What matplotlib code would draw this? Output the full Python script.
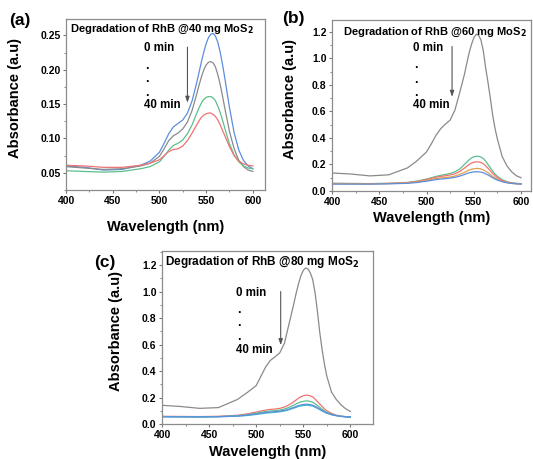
import matplotlib
matplotlib.use("Agg")
import matplotlib.pyplot as plt
from matplotlib.ticker import MultipleLocator

plt.rcParams["font.family"] = ["Liberation Sans", "DejaVu Sans"]
plt.rcParams["font.weight"] = "bold"

WL = [400, 420, 440, 460, 480, 490, 500, 505, 510, 515, 520, 525, 530, 535, 540, 542.5,
      545, 547.5, 550, 552.5, 555, 557.5, 560, 562.5, 565, 567.5, 570, 572.5, 575, 580,
      585, 590, 595, 600]

# (a) 40 mg MoS2
a_blue = [.060, .058, .054, .055, .061, .067, .080, .093, .107, .117, .122, .127, .137, .155,
          .182, .197, .212, .226, .238, .247, .252, .253, .249, .240, .226, .208, .188, .166,
          .145, .108, .083, .068, .060, .056]
a_gray = [.059, .057, .055, .056, .060, .064, .074, .085, .097, .104, .108, .114, .124, .141,
          .165, .178, .190, .200, .207, .211, .212, .210, .204, .193, .179, .162, .144, .127,
          .110, .085, .068, .059, .054, .052]
a_green = [.053, .052, .051, .052, .056, .059, .066, .074, .083, .090, .093, .098, .107, .120,
           .137, .145, .152, .157, .160, .161, .161, .159, .155, .147, .138, .127, .115, .103,
           .092, .076, .066, .060, .057, .056]
a_red = [.061, .060, .058, .058, .061, .064, .069, .075, .081, .084, .085, .089, .097, .108,
         .120, .126, .131, .134, .136, .137, .137, .135, .132, .127, .120, .112, .104, .096,
         .088, .075, .067, .063, .061, .060]

# (b) 60 mg MoS2
b_gray = [.136, .128, .114, .122, .175, .228, .295, .355, .420, .470, .505, .535, .610, .740,
          .877, .960, 1.04, 1.105, 1.155, 1.182, 1.175, 1.14, 1.06, .93, .82, .70, .57, .47,
          .39, .26, .19, .145, .115, .100]
b_green = [.058, .057, .056, .058, .065, .075, .090, .100, .110, .118, .125, .132, .145, .165,
           .200, .218, .235, .249, .258, .262, .262, .256, .245, .225, .200, .175, .150, .128,
           .110, .085, .070, .062, .058, .056]
b_red = [.057, .056, .055, .057, .063, .072, .086, .095, .104, .110, .115, .121, .130, .147,
         .172, .187, .200, .210, .217, .220, .220, .215, .206, .190, .172, .152, .132, .115,
         .100, .080, .067, .060, .056, .054]
b_orange = [.055, .055, .054, .056, .061, .068, .080, .087, .094, .099, .102, .106, .113, .125,
            .140, .150, .158, .164, .168, .170, .170, .166, .160, .150, .138, .124, .110, .098,
            .088, .073, .064, .058, .055, .053]
b_blue = [.052, .052, .052, .054, .058, .064, .074, .080, .086, .090, .093, .097, .103, .112,
          .124, .131, .137, .141, .144, .145, .145, .142, .138, .130, .121, .111, .100, .090,
          .082, .070, .062, .057, .054, .052]

# (c) 80 mg MoS2
c_gray = [.141, .132, .118, .124, .185, .235, .290, .360, .430, .480, .507, .537, .610, .760,
          .910, .990, 1.06, 1.12, 1.16, 1.178, 1.17, 1.14, 1.09, .99, .85, .69, .56, .45,
          .36, .24, .185, .145, .115, .095]
c_red = [.058, .057, .056, .058, .066, .076, .090, .098, .105, .110, .113, .118, .128, .145,
         .168, .182, .195, .206, .213, .217, .217, .212, .204, .188, .170, .150, .132, .115,
         .100, .080, .067, .060, .056, .053]
c_green = [.056, .055, .054, .056, .062, .070, .081, .088, .094, .098, .101, .105, .113, .126,
           .143, .152, .160, .167, .171, .174, .174, .170, .164, .153, .140, .126, .112, .099,
           .088, .073, .064, .058, .055, .053]
c_blue = [.054, .054, .053, .055, .060, .066, .076, .082, .087, .090, .093, .097, .103, .113,
          .126, .133, .139, .144, .147, .149, .149, .146, .142, .134, .124, .113, .102, .092,
          .083, .071, .063, .057, .054, .052]
c_cyan = [.056, .055, .054, .055, .059, .064, .072, .077, .082, .085, .088, .092, .098, .108,
          .120, .126, .132, .136, .139, .141, .141, .138, .135, .127, .118, .108, .098, .089,
          .081, .070, .063, .058, .055, .053]

GRAY = "#8a8a8a"
BLUE = "#5b8ede"
GREEN = "#5cbf8e"
RED = "#f07272"
ORANGE = "#e0a050"
CYAN = "#49b6c8"

W, H = 533, 459
fig = plt.figure(figsize=(W / 100, H / 100), dpi=100)


def make_ax(left, top, right, bottom):
    return fig.add_axes([left / W, 1 - bottom / H, (right - left) / W, (bottom - top) / H])


def style(ax, xlim, ylim, ymaj, ymin, ylab_x, xlab_y):
    ax.set_xlim(*xlim)
    ax.set_ylim(*ylim)
    ax.xaxis.set_major_locator(MultipleLocator(50))
    ax.xaxis.set_minor_locator(MultipleLocator(25))
    ax.yaxis.set_major_locator(MultipleLocator(ymaj))
    ax.yaxis.set_minor_locator(MultipleLocator(ymin))
    for s in ax.spines.values():
        s.set_color("#8c8c8c")
        s.set_linewidth(0.9)
    ax.tick_params(which="both", direction="out", color="#777777", labelsize=7.5, pad=1.5)
    ax.tick_params(which="major", length=2.5, width=0.8)
    ax.tick_params(which="minor", length=1.5, width=0.6)
    for t in ax.get_xticklabels() + ax.get_yticklabels():
        t.set_fontweight("bold")
    ax.set_ylabel("Absorbance (a.u)", fontsize=10.5, fontweight="bold")
    ax.set_xlabel("Wavelength (nm)", fontsize=10.5, fontweight="bold")
    ax.yaxis.set_label_coords(ylab_x, 0.54)
    ax.xaxis.set_label_coords(0.5, xlab_y)


def annotate(ax, x_text, y0, y40, dots, x_arrow, y_arrow0, y_arrow1):
    ax.text(x_text, y0, "0 min", fontsize=8.3, fontweight="bold", va="center")
    for d in dots:
        ax.text(x_text + 1, d, ".", fontsize=9, fontweight="bold", va="center")
    ax.text(x_text, y40, "40 min", fontsize=8.3, fontweight="bold", va="center")
    ax.annotate("", xy=(x_arrow, y_arrow1), xytext=(x_arrow, y_arrow0),
                arrowprops=dict(arrowstyle="-|>,head_length=0.35,head_width=0.12",
                                color="#555555", lw=0.8, shrinkA=0, shrinkB=0))


lw = 0.9
# (a)
ax = make_ax(66, 19, 265, 190)
ax.plot(WL, a_blue, color=BLUE, lw=lw)
ax.plot(WL, a_gray, color=GRAY, lw=lw)
ax.plot(WL, a_green, color=GREEN, lw=lw)
ax.plot(WL, a_red, color=RED, lw=lw)
style(ax, (400, 613), (0.025, 0.274), 0.05, 0.025, -0.221, -0.175)
ax.text(0.02, 0.975, "Degradation of RhB @40 mg MoS$_\\mathbf{2}$", transform=ax.transAxes,
        fontsize=8, fontweight="bold", va="top")
annotate(ax, 484, 0.232, 0.149, [0.205, 0.186, 0.166], 530, 0.233, 0.152)
fig.text(20 / W, 1 - 21 / H, "(a)", fontsize=12.5, fontweight="bold", ha="center", va="center")

# (b)
ax = make_ax(332, 20, 531, 191)
ax.plot(WL, b_gray, color=GRAY, lw=lw)
ax.plot(WL, b_green, color=GREEN, lw=lw)
ax.plot(WL, b_red, color=RED, lw=lw)
ax.plot(WL, b_orange, color=ORANGE, lw=lw)
ax.plot(WL, b_blue, color=BLUE, lw=lw)
style(ax, (400, 610.5), (0, 1.29), 0.2, 0.1, -0.176, -0.117)
ax.text(0.055, 0.965, "Degradation of RhB @60 mg MoS$_\\mathbf{2}$", transform=ax.transAxes,
        fontsize=8, fontweight="bold", va="top")
annotate(ax, 486, 1.08, 0.65, [0.95, 0.84, 0.74], 527, 1.09, 0.71)
fig.text(293 / W, 1 - 18 / H, "(b)", fontsize=12.5, fontweight="bold", ha="center", va="center")

# (c)
ax = make_ax(162, 251, 373, 424)
ax.plot(WL, c_gray, color=GRAY, lw=lw)
ax.plot(WL, c_red, color=RED, lw=lw)
ax.plot(WL, c_green, color=GREEN, lw=lw)
ax.plot(WL, c_cyan, color=CYAN, lw=lw)
ax.plot(WL, c_blue, color=BLUE, lw=lw)
style(ax, (400, 624), (0, 1.306), 0.2, 0.1, -0.185, -0.124)
ax.text(0.015, 0.985, "Degradation of RhB @80 mg MoS$_\\mathbf{2}$", transform=ax.transAxes,
        fontsize=8.5, fontweight="bold", va="top")
annotate(ax, 479, 0.99, 0.557, [0.86, 0.76, 0.655], 526, 1.0, 0.595)
fig.text(105 / W, 1 - 263 / H, "(c)", fontsize=12.5, fontweight="bold", ha="center", va="center")

fig.savefig("out.png", dpi=100, facecolor="white")
